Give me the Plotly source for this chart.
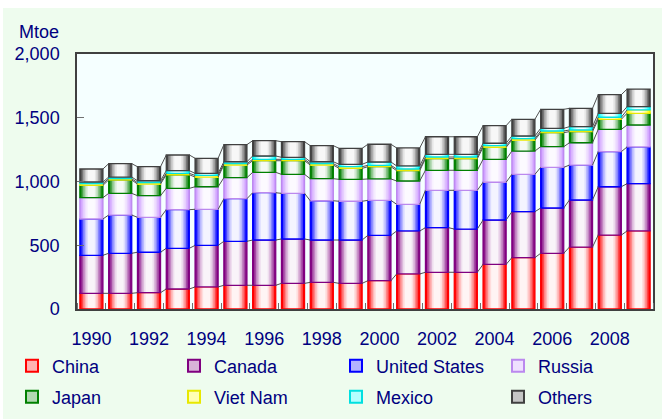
import plotly.graph_objects as go

years = list(range(1990, 2010))
china = [123, 123, 128, 157, 173, 186, 186, 201, 209, 201, 222, 275, 288, 288, 350, 403, 437, 486, 580, 612]
canada = [298, 314, 317, 319, 326, 345, 355, 348, 332, 340, 356, 337, 350, 339, 348, 360, 355, 369, 379, 371]
united_states = [285, 300, 274, 303, 283, 334, 371, 358, 308, 304, 274, 209, 293, 304, 296, 293, 319, 274, 275, 288]
russia = [167, 170, 170, 167, 177, 165, 160, 149, 173, 172, 168, 183, 157, 157, 180, 183, 162, 175, 175, 172]
japan = [97, 105, 91, 107, 76, 99, 91, 107, 107, 86, 96, 81, 91, 91, 94, 86, 110, 87, 79, 92]
viet_nam = [13, 10, 11, 11, 13, 11, 11, 11, 11, 13, 11, 13, 13, 13, 13, 11, 13, 13, 16, 26]
mexico = [13, 13, 15, 21, 16, 15, 26, 16, 15, 19, 26, 24, 21, 21, 19, 21, 21, 26, 31, 26]
others = [102, 105, 110, 123, 118, 134, 120, 122, 126, 125, 139, 141, 138, 138, 138, 131, 149, 144, 146, 138]

series_names = ["China", "Canada", "United States", "Russia", "Japan", "Viet Nam", "Mexico", "Others"]
series_values = [china, canada, united_states, russia, japan, viet_nam, mexico, others]
series_colors = ["#FF0000", "#800080", "#0000FF", "#CC99FF", "#008000", "#FFFF00", "#00FFFF", "#404040"]
edge_colors = ["#FF0000", "#800080", "#0000FF", "#BB88EE", "#008000", "#E8E800", "#00E0E0", "#404040"]

year_labels = [str(y) for y in range(1990, 2009, 2)]

BAR_W = 0.8
layer_fracs = [1.0, 0.86, 0.72, 0.58, 0.44, 0.30]
layer_tints = [0.0, 0.28, 0.52, 0.72, 0.87, 0.96]

W, H = 662, 419
ML, MR, MT, MB = 77, 9, 54, 110
PW, PH = W - ML - MR, H - MT - MB


def px_x(px):
    return (px - ML) / PW


def px_y(py):
    return (H - MB - py) / PH


def hex_to_rgb(h):
    h = h.lstrip("#")
    return tuple(int(h[i:i + 2], 16) for i in (0, 2, 4))


def tint(h, t):
    r, g, b = hex_to_rgb(h)
    return "rgb(%d,%d,%d)" % (r + (255 - r) * t, g + (255 - g) * t, b + (255 - b) * t)


fig = go.Figure()
base = [0] * len(years)
tops = []
for name, vals, col, edge in zip(series_names, series_values, series_colors, edge_colors):
    for frac, t in zip(layer_fracs, layer_tints):
        fig.add_trace(go.Bar(
            x=years, y=vals, base=base, width=BAR_W * frac,
            marker=dict(color=tint(col, t), line=dict(width=0)),
            showlegend=False, hoverinfo="skip",
        ))
    fig.add_trace(go.Bar(
        x=years, y=vals, base=base, width=BAR_W,
        marker=dict(color="rgba(0,0,0,0)", line=dict(width=1.3, color=edge)),
        showlegend=False, hoverinfo="skip",
    ))
    base = [b + v for b, v in zip(base, vals)]
    tops.append(list(base))

# series connector lines
for top in tops:
    xs, ys = [], []
    for i in range(len(years) - 1):
        xs += [years[i] + BAR_W / 2, years[i + 1] - BAR_W / 2, None]
        ys += [top[i], top[i + 1], None]
    fig.add_trace(go.Scatter(x=xs, y=ys, mode="lines", line=dict(color="#505050", width=1),
                             showlegend=False, hoverinfo="skip"))

font_fam = "Liberation Sans, Arial, sans-serif"
navy = "#000080"

# legend entries: one legend per item, 4 columns x 2 rows
col_px = [12, 174, 336, 498]
row_px = [366, 397]
legend_layouts = {}
for i, (name, col, edge) in enumerate(zip(series_names, series_colors, edge_colors)):
    lname = "legend" if i == 0 else "legend%d" % (i + 1)
    fig.add_trace(go.Bar(
        x=[None], y=[None], name=name,
        marker=dict(color=tint(col, 0.7), line=dict(width=2, color=edge)),
        legend=lname,
    ))
    legend_layouts[lname] = dict(
        x=px_x(col_px[i % 4]), y=px_y(row_px[i // 4]), xanchor="left", yanchor="middle",
        orientation="h", font=dict(family=font_fam, size=18, color=navy),
        bgcolor="rgba(0,0,0,0)",
    )

fig.update_layout(
    width=W, height=H,
    margin=dict(l=ML, r=MR, t=MT, b=MB, autoexpand=False),
    paper_bgcolor="#EEFCEE",
    plot_bgcolor="#F5FFFF",
    barmode="overlay",
    font=dict(family=font_fam, size=18, color=navy),
    xaxis=dict(
        range=[1989.5, 2009.5], tickmode="array", tickvals=[int(s) for s in year_labels],
        ticktext=year_labels, ticks="", showgrid=False, zeroline=False,
        showline=True, linecolor="#404040", linewidth=1.5, mirror=True,
        ticklabelstandoff=13,
        minor=dict(ticks="inside", tick0=1989.5, dtick=1, ticklen=6, tickcolor="#707070", showgrid=False),
        tickfont=dict(size=18, color=navy),
    ),
    yaxis=dict(
        range=[0, 2000], dtick=500, tickformat=",", ticks="inside", ticklen=7, tickcolor="#707070",
        showgrid=False, zeroline=False, showline=True, linecolor="#404040", linewidth=1.5, mirror=True,
        ticklabelstandoff=12, tickfont=dict(size=18, color=navy),
    ),
    annotations=[dict(text="Mtoe", xref="paper", yref="paper", x=px_x(61), y=px_y(32),
                      xanchor="right", yanchor="middle", showarrow=False,
                      font=dict(family=font_fam, size=18, color=navy))],
    shapes=[
        dict(type="rect", xref="paper", yref="paper", x0=px_x(-5), x1=px_x(W + 5),
             y0=px_y(8), y1=px_y(-5), fillcolor="white", line=dict(width=0), layer="below"),
        dict(type="rect", xref="paper", yref="paper", x0=px_x(-5), x1=px_x(3),
             y0=px_y(H + 5), y1=px_y(-5), fillcolor="white", line=dict(width=0), layer="below"),
    ],
    **legend_layouts,
)

fig.write_html("out.html", config={"displayModeBar": False},
               post_script="document.body.style.margin='0';document.body.style.overflow='hidden';")
